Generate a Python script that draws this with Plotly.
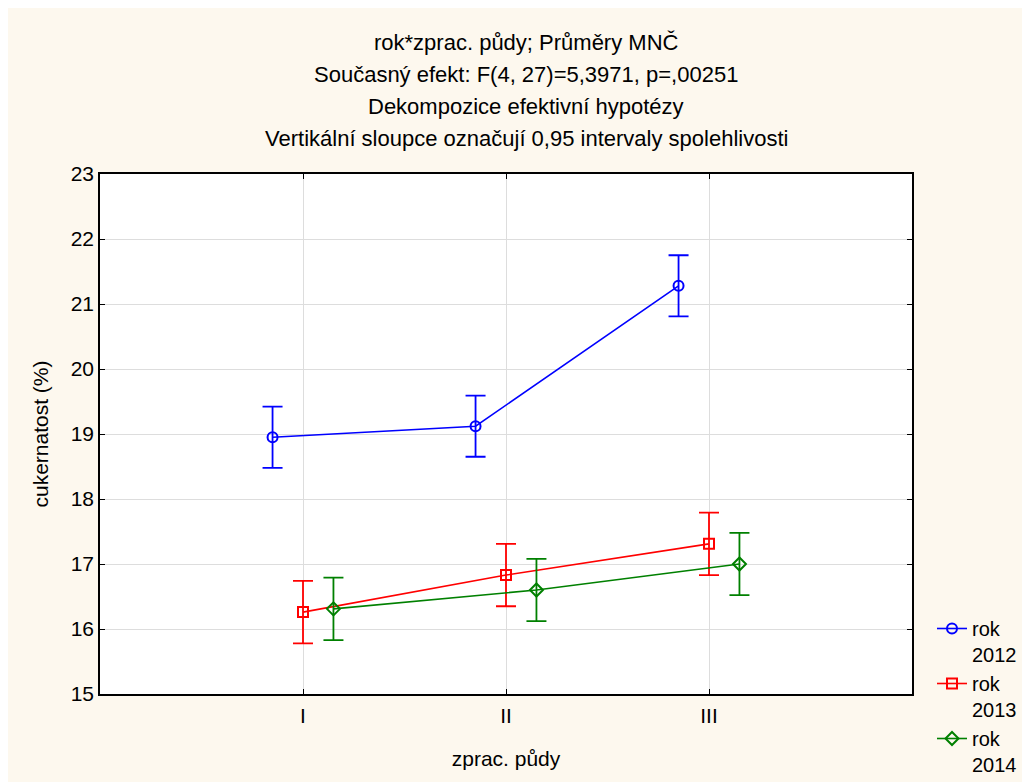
import plotly.graph_objects as go

categories = ["I", "II", "III"]
years = ["2012", "2013", "2014"]
means_2012 = [18.95, 19.12, 21.28]
means_2013 = [16.26, 16.83, 17.31]
means_2014 = [16.31, 16.60, 17.00]
ci_2012 = [0.47, 0.47, 0.47]
ci_2013 = [0.48, 0.48, 0.48]
ci_2014 = [0.48, 0.48, 0.48]
offsets = [-0.15, 0.0, 0.15]
colors = ["#0000FF", "#FF0000", "#008000"]
symbols = ["circle-open", "square-open", "diamond-open"]

means = [means_2012, means_2013, means_2014]
cis = [ci_2012, ci_2013, ci_2014]

fig = go.Figure()
for i in range(3):
    xs = [k + 1 + offsets[i] for k in range(len(categories))]
    fig.add_trace(go.Scatter(
        x=xs, y=means[i], mode="lines+markers",
        name="rok<br>" + years[i],
        line=dict(color=colors[i], width=1.6),
        marker=dict(symbol=symbols[i], size=10, color=colors[i],
                    line=dict(color=colors[i], width=2)),
        error_y=dict(type="data", array=cis[i], visible=True,
                     color=colors[i], thickness=1.8, width=10),
    ))

font = "Liberation Sans, Arial, sans-serif"
FS = 21
title_lines = [
    "rok*zprac. půdy; Průměry MNČ",
    "Současný efekt: F(4, 27)=5,3971, p=,00251",
    "Dekompozice efektivní hypotézy",
    "Vertikální sloupce označují 0,95 intervaly spolehlivosti",
]
title_py = [42, 74, 106, 138]
annotations = []
for t, py in zip(title_lines, title_py):
    annotations.append(dict(
        text=t, xref="paper", yref="paper", x=(526 - 100) / 812,
        y=(694 - py) / 520, xanchor="center", yanchor="middle",
        showarrow=False, font=dict(size=22, color="black", family=font)))

fig.update_layout(
    width=1030, height=782,
    margin=dict(l=92, r=126, t=166, b=96, autoexpand=False),
    paper_bgcolor="#FDF8EE",
    plot_bgcolor="white",
    font=dict(family=font, size=FS, color="black"),
    annotations=annotations,
    showlegend=True,
    legend=dict(x=(932 - 100) / 812, y=(694 - 609) / 520, xanchor="left",
                yanchor="top", bgcolor="rgba(0,0,0,0)", valign="top",
                font=dict(size=20), tracegroupgap=0, itemwidth=30),
    xaxis=dict(range=[0, 4], tickvals=[1, 2, 3], ticktext=categories,
               showgrid=True, gridcolor="#DDDDDD", gridwidth=1,
               showline=True, linecolor="black", linewidth=1.5, mirror="ticks",
               ticks="inside", ticklen=5, tickcolor="black",
               ticklabelstandoff=2, zeroline=False,
               title=dict(text="zprac. půdy", font=dict(size=FS), standoff=25)),
    yaxis=dict(range=[15, 23], dtick=1,
               showgrid=True, gridcolor="#DDDDDD", gridwidth=1,
               showline=True, linecolor="black", linewidth=1.5, mirror="ticks",
               ticks="inside", ticklen=5, tickcolor="black",
               zeroline=False,
               title=dict(text="cukernatost (%)", font=dict(size=FS), standoff=16)),
)

fig.write_html("out.html")
